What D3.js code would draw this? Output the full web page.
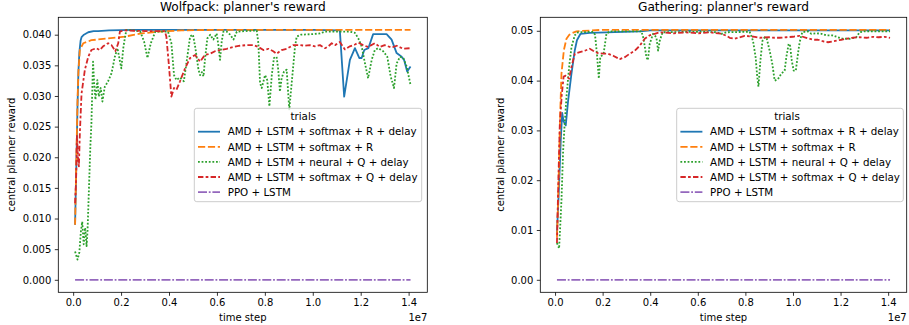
<!DOCTYPE html>
<html>
<head>
<meta charset="utf-8">
<script src="https://cdn.jsdelivr.net/npm/d3@7"></script>
<style>
  html, body { margin: 0; padding: 0; background: #ffffff; }
  svg { display: block; font-family: "DejaVu Sans", sans-serif; }
</style>
</head>
<body>
<svg id="chart" width="909" height="325"></svg>
<script>
// ---------------- DATA (time step in units of 1e7) ----------------
const trialNames = [
  "AMD + LSTM + softmax + R + delay",
  "AMD + LSTM + softmax + R",
  "AMD + LSTM + neural + Q + delay",
  "AMD + LSTM + softmax + Q + delay",
  "PPO + LSTM"
];
const xTicks = [0.0, 0.2, 0.4, 0.6, 0.8, 1.0, 1.2, 1.4];
const wolfYTicks = [0.000, 0.005, 0.010, 0.015, 0.020, 0.025, 0.030, 0.035, 0.040];
const gathYTicks = [0.00, 0.01, 0.02, 0.03, 0.04, 0.05];

// Wolfpack
const wolfBlue = [[0.008,0.009],[0.014,0.020],[0.018,0.028],[0.022,0.034],[0.026,0.0372],[0.031,0.0390],[0.035,0.0396],[0.045,0.0400],[0.063,0.0404],[0.085,0.0406],[0.104,0.0406],[0.15,0.0407],[0.25,0.0408],[0.5,0.0408],[0.8,0.0408],[1.0,0.0408],[1.113,0.0407],[1.131,0.0299],[1.155,0.0359],[1.176,0.0378],[1.194,0.0362],[1.204,0.0362],[1.215,0.0375],[1.232,0.0378],[1.252,0.0401],[1.308,0.0401],[1.329,0.0392],[1.350,0.0370],[1.371,0.0364],[1.381,0.0359],[1.394,0.0340],[1.408,0.0348]];
const wolfOrange = [[0.008,0.009],[0.014,0.021],[0.018,0.029],[0.022,0.034],[0.028,0.0375],[0.042,0.0386],[0.076,0.0391],[0.146,0.0394],[0.216,0.0397],[0.285,0.0402],[0.354,0.0405],[0.452,0.0407],[0.6,0.0408],[1.0,0.0408],[1.408,0.0408]];
const wolfGreen = [[0.008,0.0046],[0.018,0.0033],[0.026,0.0045],[0.032,0.0078],[0.038,0.0095],[0.044,0.0058],[0.050,0.0085],[0.056,0.0055],[0.060,0.008],[0.066,0.015],[0.072,0.022],[0.076,0.0253],[0.083,0.0356],[0.0876,0.0321],[0.093,0.0294],[0.101,0.0326],[0.107,0.0299],[0.115,0.0313],[0.122,0.0291],[0.132,0.0315],[0.146,0.0324],[0.160,0.0337],[0.174,0.0364],[0.185,0.0378],[0.201,0.0345],[0.210,0.0381],[0.222,0.0408],[0.254,0.0407],[0.280,0.0405],[0.296,0.0389],[0.310,0.0362],[0.324,0.0386],[0.343,0.0405],[0.396,0.0405],[0.410,0.0386],[0.421,0.0334],[0.431,0.0326],[0.445,0.0330],[0.462,0.0324],[0.475,0.0360],[0.488,0.0397],[0.500,0.0400],[0.509,0.0381],[0.523,0.0343],[0.530,0.0334],[0.537,0.0339],[0.544,0.0332],[0.550,0.0359],[0.560,0.0394],[0.572,0.0400],[0.585,0.0392],[0.599,0.0402],[0.606,0.0383],[0.613,0.0359],[0.620,0.0389],[0.627,0.0405],[0.641,0.0405],[0.655,0.0400],[0.669,0.0392],[0.683,0.0405],[0.766,0.0407],[0.773,0.0386],[0.780,0.0321],[0.787,0.0313],[0.801,0.0334],[0.810,0.0326],[0.819,0.0283],[0.829,0.0334],[0.838,0.0362],[0.849,0.0364],[0.856,0.0343],[0.863,0.0307],[0.870,0.0329],[0.880,0.0340],[0.891,0.0343],[0.902,0.0278],[0.912,0.0321],[0.926,0.0381],[0.933,0.0397],[0.950,0.0400],[1.000,0.0401],[1.030,0.0402],[1.050,0.0405],[1.155,0.0405],[1.176,0.0403],[1.190,0.0394],[1.204,0.0381],[1.218,0.0353],[1.231,0.0329],[1.246,0.0359],[1.259,0.0375],[1.273,0.0378],[1.294,0.0373],[1.311,0.0364],[1.325,0.0332],[1.339,0.0313],[1.350,0.0353],[1.364,0.0364],[1.378,0.0362],[1.392,0.0348],[1.408,0.0318]];
const wolfRed = [[0.008,0.0125],[0.012,0.0160],[0.016,0.0235],[0.020,0.0200],[0.024,0.0185],[0.028,0.0240],[0.035,0.0304],[0.049,0.0343],[0.063,0.0364],[0.076,0.0375],[0.097,0.0378],[0.111,0.0375],[0.125,0.0381],[0.146,0.0386],[0.160,0.0383],[0.176,0.0373],[0.188,0.0386],[0.195,0.0405],[0.210,0.0407],[0.300,0.0406],[0.382,0.0406],[0.389,0.0397],[0.399,0.0353],[0.410,0.0299],[0.421,0.0313],[0.431,0.0310],[0.446,0.0324],[0.467,0.0345],[0.488,0.0362],[0.509,0.0367],[0.530,0.0356],[0.550,0.0367],[0.572,0.0369],[0.592,0.0373],[0.613,0.0375],[0.641,0.0377],[0.669,0.0380],[0.696,0.0382],[0.724,0.0383],[0.752,0.0383],[0.773,0.0380],[0.794,0.0375],[0.815,0.0377],[0.835,0.0373],[0.849,0.0369],[0.870,0.0375],[0.891,0.0377],[0.919,0.0383],[0.947,0.0383],[0.968,0.0382],[0.988,0.0383],[1.009,0.0381],[1.030,0.0383],[1.051,0.0378],[1.065,0.0381],[1.079,0.0386],[1.093,0.0383],[1.113,0.0388],[1.134,0.0376],[1.155,0.0381],[1.176,0.0384],[1.190,0.0387],[1.210,0.0383],[1.230,0.0380],[1.259,0.0386],[1.280,0.0380],[1.300,0.0383],[1.329,0.0379],[1.350,0.0382],[1.378,0.0377],[1.408,0.0378]];
const wolfPurple = [[0.008,0.0],[1.408,0.0]];

// Gathering
const gathBlue = [[0.008,0.0095],[0.016,0.018],[0.024,0.028],[0.030,0.0335],[0.036,0.0318],[0.045,0.0310],[0.055,0.0360],[0.069,0.0414],[0.083,0.0461],[0.092,0.0481],[0.107,0.0494],[0.146,0.0496],[0.216,0.0497],[0.356,0.0499],[0.400,0.0501],[1.408,0.0501]];
const gathOrange = [[0.008,0.0085],[0.013,0.016],[0.018,0.026],[0.022,0.034],[0.027,0.0414],[0.037,0.0461],[0.048,0.0484],[0.060,0.0492],[0.069,0.0495],[0.090,0.0499],[0.2,0.0502],[1.408,0.0502]];
const gathGreen = [[0.008,0.0074],[0.017,0.0063],[0.022,0.0110],[0.027,0.0160],[0.034,0.0260],[0.040,0.0310],[0.048,0.0367],[0.059,0.0427],[0.069,0.0467],[0.083,0.0491],[0.097,0.0497],[0.160,0.0498],[0.168,0.0492],[0.176,0.0454],[0.184,0.0404],[0.190,0.0447],[0.204,0.0454],[0.216,0.0494],[0.230,0.0499],[0.363,0.0499],[0.372,0.0484],[0.384,0.0447],[0.390,0.0441],[0.398,0.0474],[0.412,0.0494],[0.426,0.0487],[0.433,0.0460],[0.440,0.0480],[0.452,0.0497],[0.600,0.0498],[0.680,0.0497],[0.700,0.0494],[0.720,0.0497],[0.818,0.0498],[0.832,0.0480],[0.843,0.0447],[0.850,0.0407],[0.855,0.0388],[0.863,0.0440],[0.872,0.0480],[0.881,0.0487],[0.890,0.0484],[0.902,0.0460],[0.913,0.0434],[0.923,0.0400],[0.937,0.0403],[0.951,0.0414],[0.965,0.0420],[0.972,0.0447],[0.982,0.0474],[0.988,0.0470],[0.995,0.0440],[1.003,0.0420],[1.012,0.0420],[1.021,0.0454],[1.028,0.0477],[1.039,0.0497],[1.060,0.0499],[1.077,0.0494],[1.100,0.0495],[1.120,0.0494],[1.140,0.0491],[1.165,0.0491],[1.189,0.0487],[1.210,0.0484],[1.238,0.0484],[1.266,0.0487],[1.280,0.0497],[1.300,0.0499],[1.408,0.0499]];
const gathRed = [[0.008,0.0074],[0.013,0.0180],[0.020,0.0313],[0.028,0.0370],[0.036,0.0408],[0.045,0.0410],[0.059,0.0404],[0.069,0.0427],[0.083,0.0454],[0.104,0.0457],[0.125,0.0460],[0.146,0.0464],[0.160,0.0460],[0.181,0.0455],[0.202,0.0454],[0.223,0.0454],[0.244,0.0450],[0.272,0.0443],[0.293,0.0447],[0.314,0.0454],[0.335,0.0460],[0.356,0.0470],[0.377,0.0484],[0.398,0.0491],[0.419,0.0494],[0.440,0.0497],[0.500,0.0495],[0.550,0.0497],[0.600,0.0495],[0.650,0.0497],[0.700,0.0494],[0.720,0.0490],[0.734,0.0486],[0.755,0.0484],[0.776,0.0487],[0.797,0.0490],[0.818,0.0489],[0.840,0.0488],[0.860,0.0486],[0.900,0.0487],[0.923,0.0486],[0.944,0.0486],[0.972,0.0487],[1.000,0.0488],[1.028,0.0490],[1.056,0.0486],[1.084,0.0482],[1.105,0.0482],[1.126,0.0479],[1.147,0.0477],[1.170,0.0479],[1.203,0.0482],[1.224,0.0484],[1.250,0.0486],[1.280,0.0487],[1.310,0.0486],[1.336,0.0488],[1.360,0.0487],[1.385,0.0488],[1.408,0.0486]];
const gathPurple = [[0.008,0.0],[1.408,0.0]];

// ---------------- STYLE ----------------
const colors = ["#1f77b4", "#ff7f0e", "#2ca02c", "#d62728", "#9467bd"];
const LW = 1.8;
const dashes = [null, [4,1.5], [1,1], [3,1.25,1.5,1.25], [5,1,1,1]]
  .map(d => d ? d.map(v => v * LW).join(",") : null);

const svg = d3.select("#chart");
const FONT = "DejaVu Sans";

function panel(cfg) {
  const { left, right, top, bottom } = cfg.box;
  const all = cfg.series.flat();
  const xe = d3.extent(all, d => d[0]);
  const ye = d3.extent(all, d => d[1]);
  const xp = (xe[1] - xe[0]) * 0.05, yp = (ye[1] - ye[0]) * 0.05;
  const x = d3.scaleLinear().domain([xe[0] - xp, xe[1] + xp]).range([left, right]);
  const y = d3.scaleLinear().domain([ye[0] - yp, ye[1] + yp]).range([bottom, top]);

  const g = svg.append("g");
  const line = d3.line().x(d => x(d[0])).y(d => y(d[1]));

  cfg.series.forEach((s, i) => {
    g.append("path").datum(s)
      .attr("d", line)
      .attr("fill", "none")
      .attr("stroke", colors[i])
      .attr("stroke-width", LW)
      .attr("stroke-linejoin", "round")
      .attr("stroke-dasharray", dashes[i]);
  });

  // axes
  const xAxis = d3.axisBottom(x).tickValues(xTicks).tickFormat(d3.format(".1f")).tickSize(3.5).tickPadding(3.5);
  const yAxis = d3.axisLeft(y).tickValues(cfg.yTicks).tickFormat(d3.format(cfg.yFmt)).tickSize(3.5).tickPadding(3.5);
  const gx = g.append("g").attr("transform", `translate(0,${bottom})`).call(xAxis);
  const gy = g.append("g").attr("transform", `translate(${left},0)`).call(yAxis);
  [gx, gy].forEach(a => {
    a.select(".domain").remove();
    a.selectAll("line").attr("stroke", "#000").attr("stroke-width", 0.8);
    a.selectAll("text").attr("font-family", FONT).attr("font-size", 10).attr("fill", "#000");
  });

  // frame
  g.append("rect").attr("x", left).attr("y", top)
    .attr("width", right - left).attr("height", bottom - top)
    .attr("fill", "none").attr("stroke", "#000").attr("stroke-width", 0.8);

  // labels
  g.append("text").attr("x", (left + right) / 2).attr("y", 11)
    .attr("text-anchor", "middle").attr("font-family", FONT).attr("font-size", 12.2)
    .text(cfg.title);
  g.append("text").attr("x", (left + right) / 2).attr("y", 320.5)
    .attr("text-anchor", "middle").attr("font-family", FONT).attr("font-size", 10)
    .text("time step");
  g.append("text").attr("x", right).attr("y", 321)
    .attr("text-anchor", "end").attr("font-family", FONT).attr("font-size", 10)
    .text("1e7");
  g.append("text")
    .attr("transform", `translate(${cfg.ylabX},${(top + bottom) / 2}) rotate(-90)`)
    .attr("text-anchor", "middle").attr("font-family", FONT).attr("font-size", 10)
    .text("central planner reward");

  // legend
  const L = cfg.legend;
  const lg = g.append("g");
  lg.append("rect").attr("x", L.x).attr("y", L.y).attr("width", L.w).attr("height", L.h)
    .attr("rx", 2.5).attr("fill", "#fff").attr("fill-opacity", 0.8)
    .attr("stroke", "#cccccc").attr("stroke-width", 1);
  lg.append("text").attr("x", L.titleX).attr("y", L.y + 11.8)
    .attr("text-anchor", "middle").attr("font-family", FONT).attr("font-size", 10.3)
    .text("trials");
  trialNames.forEach((name, i) => {
    const cy = L.y + 23.4 + i * 15.1;
    lg.append("line").attr("x1", L.x + 3.7).attr("x2", L.x + 25.7)
      .attr("y1", cy).attr("y2", cy)
      .attr("stroke", colors[i]).attr("stroke-width", LW)
      .attr("stroke-dasharray", dashes[i]);
    lg.append("text").attr("x", L.x + 33.4).attr("y", cy + 3.7)
      .attr("font-family", FONT).attr("font-size", 10.3).text(name);
  });
}

panel({
  title: "Wolfpack: planner's reward",
  box: { left: 58.3, right: 427.3, top: 17.3, bottom: 292.3 },
  series: [wolfBlue, wolfOrange, wolfGreen, wolfRed, wolfPurple],
  yTicks: wolfYTicks, yFmt: ".3f", ylabX: 15.3,
  legend: { x: 194.3, y: 108.3, w: 227.4, h: 93.4, titleX: 303.3 }
});
panel({
  title: "Gathering: planner's reward",
  box: { left: 540.3, right: 906.7, top: 17.3, bottom: 292.3 },
  series: [gathBlue, gathOrange, gathGreen, gathRed, gathPurple],
  yTicks: gathYTicks, yFmt: ".2f", ylabX: 503.8,
  legend: { x: 676.7, y: 108.3, w: 226.6, h: 93.4, titleX: 787 }
});
</script>
</body>
</html>
